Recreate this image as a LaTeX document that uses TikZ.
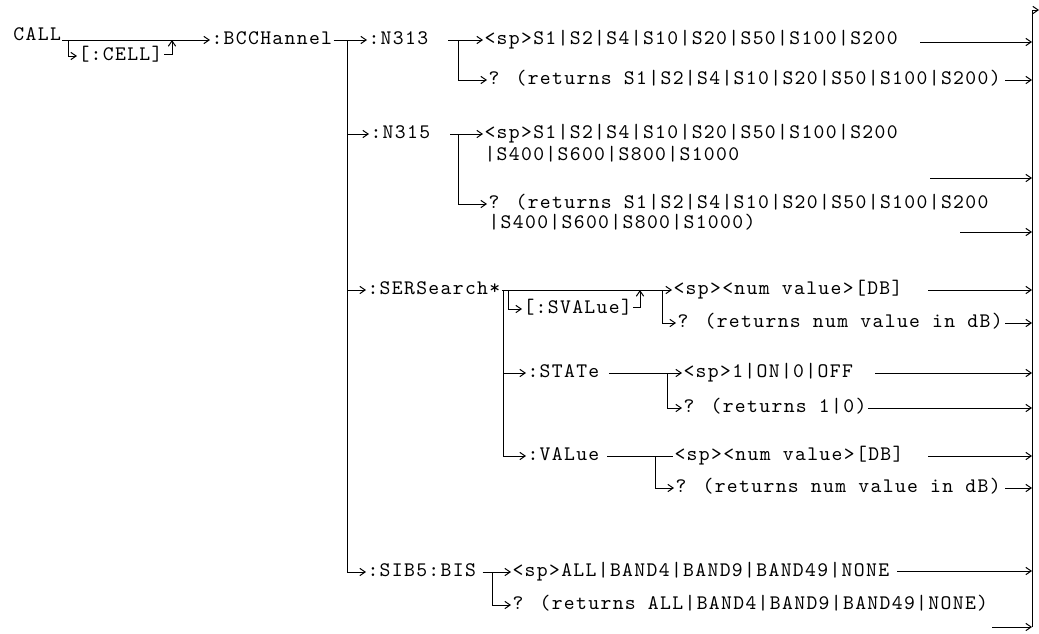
\documentclass[tikz,border=0pt]{standalone}
\usepackage{fontspec}
\usetikzlibrary{arrows.meta}
\newfontfamily\cmdfont{lmmono10-regular.otf}[LetterSpace=6.5]

\begin{document}
\begin{tikzpicture}[x=0.75pt,y=0.75pt,yscale=-1,xscale=1,line width=0.75pt,
    cmd/.style={font=\cmdfont\fontsize{15.5}{17}\selectfont, anchor=west, inner sep=0.75pt, text height=8pt, text depth=2pt},
    tip/.style={-{Straight Barb[length=4pt,width=5.5pt]}}]
    \useasboundingbox (0,0) rectangle (1039,633);

    % Text Node
    \node[cmd, anchor=base west] (call) at (12,40) {CALL};
    \node[cmd] (cell) at (77,56) {[:CELL]};
    \node[cmd] (bcch) at (210,40) {:BCCHannel};
    % Text Node
    \node[cmd] (nthree) at (367,40) {:N313};
    \node[cmd] (nthreeset) at (483,40) {<sp>S1|S2|S4|S10|S20|S50|S100|S200};
    \node[cmd] (nthreeq) at (487,80) {? (returns S1|S2|S4|S10|S20|S50|S100|S200)};
    % Text Node
    \node[cmd] (nfive) at (369,134) {:N315};
    \node[cmd] (nfiveset) at (483,134) {<sp>S1|S2|S4|S10|S20|S50|S100|S200};
    \node[cmd] (nfivesetb) at (483,156) {|S400|S600|S800|S1000};
    \node[cmd] (nfiveq) at (487,204) {? (returns S1|S2|S4|S10|S20|S50|S100|S200};
    \node[cmd] (nfiveqb) at (487,224) {|S400|S600|S800|S1000)};
    % Text Node
    \node[cmd] (ser) at (366,290) {:SERSearch*};
    \node[cmd] (svalue) at (522,309) {[:SVALue]};
    \node[cmd] (serset) at (672,290) {<sp><num value>[DB]};
    \node[cmd] (serq) at (676,323) {? (returns num value in dB)};
    % Text Node
    \node[cmd] (state) at (526,373) {:STATe};
    \node[cmd] (stateset) at (682,373) {<sp>1|ON|0|OFF};
    \node[cmd] (stateq) at (682,408) {? (returns 1|0)};
    % Text Node
    \node[cmd] (value) at (526,456) {:VALue};
    \node[cmd] (valueset) at (673,456) {<sp><num value>[DB]};
    \node[cmd] (valueq) at (674,488) {? (returns num value in dB)};
    % Text Node
    \node[cmd] (sib) at (366,572) {:SIB5:BIS};
    \node[cmd] (sibset) at (511,572) {<sp>ALL|BAND4|BAND9|BAND49|NONE};
    \node[cmd] (sibq) at (511,605) {? (returns ALL|BAND4|BAND9|BAND49|NONE)};

    % branch points
    \coordinate (csplit) at (68,40);
    \coordinate (cjoin) at (172,40);
    \coordinate (bj) at (347,40);
    \coordinate (jthree) at (458,40);
    \coordinate (jfive) at (458,134);
    \coordinate (jser) at (503,290);
    \coordinate (jsv) at (508,290);
    \coordinate (svret) at (640,290);
    \coordinate (jserq) at (662,290);
    \coordinate (jstate) at (667,373);
    \coordinate (jvalue) at (655,456);
    \coordinate (jsib) at (492,572);
    \coordinate (busbot) at (1032,627);
    \coordinate (busout) at (1039,10);

    % Connectors
    \draw[tip] (call.base east) -- (bcch.west);
    \draw[tip] (csplit) |- (cell.west);
    \draw[tip] ([yshift=-1.5pt]cell.east) -| (cjoin);
    \draw[tip] (bcch) -- (nthree);
    \foreach \n in {nfive,ser,sib}
        \draw[tip] (bj) |- (\n.west);
    \draw[tip, shorten <=14pt] (nthree) -- (nthreeset);
    \draw[tip] (jthree) |- (nthreeq.west);
    \draw[tip, shorten <=14pt] (nfive) -- (nfiveset);
    \draw[tip] (jfive) |- (nfiveq.west);
    \draw[tip] (ser) -- (serset);
    \draw[tip] (jsv) |- (svalue.west);
    \draw[tip] ([yshift=-1.5pt]svalue.east) -| (svret);
    \draw[tip] (jserq) |- (serq.west);
    \draw[tip] (jser) |- (state.west);
    \draw[tip] (jser) |- (value.west);
    \draw[tip, shorten <=6pt] (state) -- (stateset);
    \draw[tip] (jstate) |- (stateq.west);
    \draw[shorten <=5pt] (value) -- (valueset);
    \draw[tip] (jvalue) |- (valueq.west);
    \draw[tip, shorten <=4pt] (sib) -- (sibset);
    \draw[tip] (jsib) |- (sibq.west);

    % right hand bus
    \draw[tip] (busbot) |- (busout);
    \foreach \n/\x/\y in {oa/920/42, ob/1005/80, oc/930/178, od/960/232,
        oe/928/290, of/1005/323, og/875/373, oh/868/408,
        oi/928/456, oj/1005/488, ok/897/571, ol/992/627} {
        \coordinate (\n) at (\x,\y);
        \draw[tip] (\n) -- (\n -| busbot);
    }
\end{tikzpicture}
\end{document}
